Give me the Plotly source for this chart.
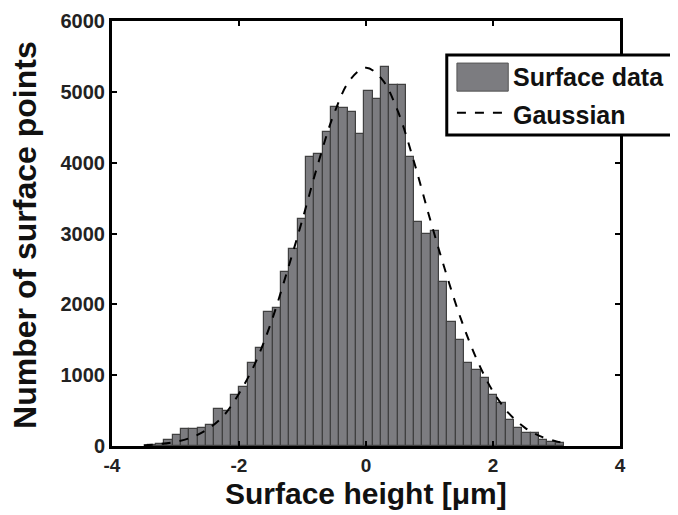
import plotly.graph_objects as go

# ---- data ----
bin_start = -3.44
bin_width = 0.1312
counts = [20, 35, 90, 160, 240, 240, 260, 300, 520, 490,
          720, 840, 1166, 1378, 1895, 1942, 2459, 2788, 3211, 4081,
          4128, 4434, 4786, 4770, 4715, 4400, 5010, 4904, 5350, 5092,
          5092, 4081, 3160, 3000, 3040, 2310, 1753, 1495, 1166, 1078,
          965, 719, 602, 367, 250, 180, 180, 85, 61, 38]

gauss_x = [-3.5, -3.25, -3.0, -2.75, -2.5, -2.25, -2.0, -1.75, -1.5, -1.25,
           -1.0, -0.75, -0.5, -0.25, 0.0, 0.25, 0.5, 0.75, 1.0, 1.25,
           1.5, 1.75, 2.0, 2.25, 2.5, 2.75, 3.0, 3.1]
gauss_y = [12, 27, 60, 120, 235, 420, 740, 1160, 1730, 2440,
           3200, 4000, 4700, 5170, 5340, 5180, 4730, 4030, 3230, 2470,
           1780, 1210, 770, 460, 260, 135, 65, 45]

x_ticks = [-4, -2, 0, 2, 4]
y_ticks = [0, 1000, 2000, 3000, 4000, 5000, 6000]
legend_labels = ["Surface data", "Gaussian"]
x_title = "Surface height [μm]"
y_title = "Number of surface points"

bin_centers = [bin_start + bin_width * (i + 0.5) for i in range(len(counts))]

FONT = "Liberation Sans, Arial, sans-serif"
BAR_COLOR = "#7c7c80"

fig = go.Figure()
fig.add_trace(go.Bar(
    x=bin_centers, y=counts, width=bin_width,
    name=legend_labels[0], showlegend=False,
    marker=dict(color=BAR_COLOR, line=dict(color="#404040", width=1.2)),
))
fig.add_trace(go.Scatter(
    x=gauss_x, y=gauss_y, mode="lines", name=legend_labels[1], showlegend=False,
    line=dict(color="black", width=2, dash="dash", shape="spline"),
))

# hand-drawn legend (box runs off the right edge as in the reference)
fig.add_shape(type="rect", xref="paper", yref="paper",
              x0=0.659, x1=1.2, y0=0.732, y1=0.92,
              fillcolor="white", line=dict(color="black", width=3), layer="above")
fig.add_shape(type="rect", xref="paper", yref="paper",
              x0=0.679, x1=0.780, y0=0.835, y1=0.901,
              fillcolor=BAR_COLOR, line=dict(color="#555", width=1), layer="above")
fig.add_shape(type="line", xref="paper", yref="paper",
              x0=0.679, x1=0.776, y0=0.784, y1=0.784,
              line=dict(color="black", width=2, dash="dash"), layer="above")
fig.add_annotation(xref="paper", yref="paper", x=0.786, y=0.868,
                   xanchor="left", yanchor="middle", showarrow=False,
                   text="<b>" + legend_labels[0] + "</b>",
                   font=dict(family=FONT, size=25, color="#111"))
fig.add_annotation(xref="paper", yref="paper", x=0.786, y=0.779,
                   xanchor="left", yanchor="middle", showarrow=False,
                   text="<b>" + legend_labels[1] + "</b>",
                   font=dict(family=FONT, size=25, color="#111"))

# axis titles
fig.add_annotation(xref="paper", yref="paper", x=0.5, y=-0.111,
                   xanchor="center", yanchor="middle", showarrow=False,
                   text="<b>" + x_title + "</b>",
                   font=dict(family=FONT, size=30, color="#111"))
fig.add_annotation(xref="paper", yref="paper", x=-0.171, y=0.497,
                   xanchor="center", yanchor="middle", showarrow=False,
                   textangle=-90,
                   text="<b>" + y_title + "</b>",
                   font=dict(family=FONT, size=32, color="#111"))

fig.update_layout(
    width=678, height=515,
    margin=dict(l=104, r=66, t=13, b=77),
    paper_bgcolor="white", plot_bgcolor="white",
    bargap=0,
    font=dict(family=FONT, color="black"),
    showlegend=False,
    xaxis=dict(
        range=[-4, 4], tickvals=x_ticks, ticktext=["<b>%d</b>" % v for v in x_ticks],
        showgrid=False, zeroline=False, automargin=False,
        showline=True, linecolor="black", linewidth=3, mirror="ticks",
        ticks="inside", ticklen=5, tickwidth=2, tickcolor="black",
        tickfont=dict(family=FONT, size=19, color="#222"),
    ),
    yaxis=dict(
        range=[0, 6000], tickvals=y_ticks, ticktext=["<b>%d</b>" % v for v in y_ticks],
        showgrid=False, zeroline=False, automargin=False,
        showline=True, linecolor="black", linewidth=3, mirror="ticks",
        ticks="inside", ticklen=5, tickwidth=2, tickcolor="black",
        tickfont=dict(family=FONT, size=20, color="#222"),
    ),
)

fig.write_html("out.html")
